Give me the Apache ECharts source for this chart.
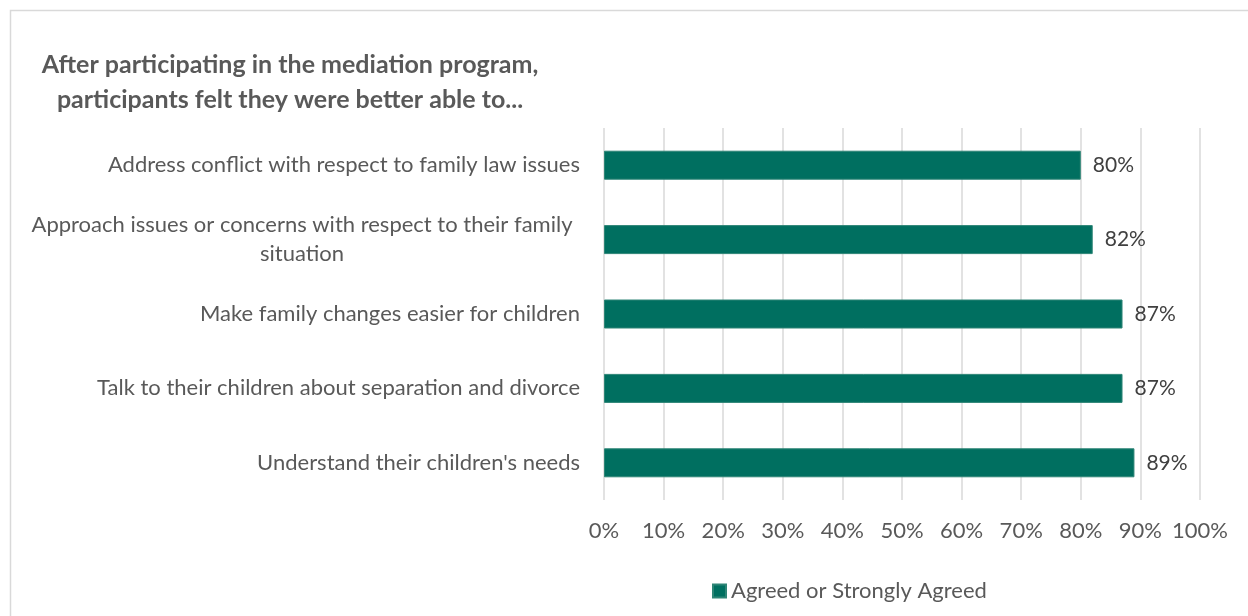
<!DOCTYPE html>
<html>
<head>
<meta charset="utf-8">
<script src="https://cdn.jsdelivr.net/npm/echarts@6/dist/echarts.min.js"></script>
<style>
  html, body { margin: 0; padding: 0; background: #fff; }
  #chart { width: 1248px; height: 616px; }
</style>
</head>
<body>
<div id="chart"></div>
<script>
// Survey outcomes, share of participants who agreed or strongly agreed
const categories = [
  "Address conflict with respect to family law issues",
  "Approach issues or concerns with respect to their family situation",
  "Make family changes easier for children",
  "Talk to their children about separation and divorce",
  "Understand their children's needs"
];
const agreedValues = [80, 82, 87, 87, 89];
const seriesName = "Agreed or Strongly Agreed";
const titleText = "After participating in the mediation program,\nparticipants felt they were better able to...";

const FONT = "Lato, 'Open Sans', sans-serif";
const GREY = "#595959";
const SIZE = 22;
const MAX_LINE = 56; // characters before a category label wraps

// Break long labels at the last space before the limit; wrapped lines are centred
function wrapLabel(value) {
  if (value.length <= MAX_LINE) return "{r|" + value + "}";
  const cut = value.lastIndexOf(" ", MAX_LINE);
  return "{c|" + value.slice(0, cut) + "}\n{c|" + value.slice(cut + 1) + "}";
}

const chart = echarts.init(document.getElementById("chart"), null, { renderer: "canvas" });
chart.setOption({
  animation: false,
  backgroundColor: "#ffffff",
  graphic: [{
    type: "rect",
    silent: true,
    shape: { x: 10.5, y: 10.5, width: 1300, height: 700 },
    style: { fill: "none", stroke: "#d9d9d9", lineWidth: 1.5 }
  }],
  title: {
    text: titleText,
    left: 285,
    top: 42,
    textAlign: "center",
    textStyle: {
      fontFamily: FONT,
      fontSize: 25,
      fontWeight: "bold",
      color: GREY,
      lineHeight: 35
    }
  },
  legend: {
    data: [seriesName],
    left: 707,
    top: 575,
    itemWidth: 13,
    itemHeight: 13,
    icon: "rect",
    textStyle: { fontFamily: FONT, fontSize: SIZE, color: GREY }
  },
  grid: { left: 604, right: 48, top: 128, bottom: 116, containLabel: false },
  xAxis: {
    type: "value",
    min: 0,
    max: 100,
    interval: 10,
    axisLine: { show: false },
    axisTick: { show: false },
    splitLine: { lineStyle: { color: "#d9d9d9", width: 1.5 } },
    axisLabel: {
      margin: 20,
      fontFamily: FONT,
      fontSize: SIZE,
      color: GREY,
      formatter: v => v + "%"
    }
  },
  yAxis: {
    type: "category",
    inverse: true,
    data: categories,
    axisLine: { show: false },
    axisTick: { show: false },
    axisLabel: {
      margin: 24,
      fontFamily: FONT,
      fontSize: SIZE,
      color: GREY,
      formatter: wrapLabel,
      rich: {
        r: { fontFamily: FONT, fontSize: SIZE, color: GREY, lineHeight: 29 },
        c: { fontFamily: FONT, fontSize: SIZE, color: GREY, lineHeight: 29, width: 556, align: "center" }
      }
    }
  },
  series: [{
    name: seriesName,
    type: "bar",
    data: agreedValues,
    barWidth: 29,
    itemStyle: { color: "#006f60", borderColor: "#2e8576", borderWidth: 1 },
    label: {
      show: true,
      position: "right",
      distance: 12,
      fontFamily: FONT,
      fontSize: 21,
      color: "#404040",
      formatter: p => p.value + "%"
    }
  }]
});
</script>
</body>
</html>
